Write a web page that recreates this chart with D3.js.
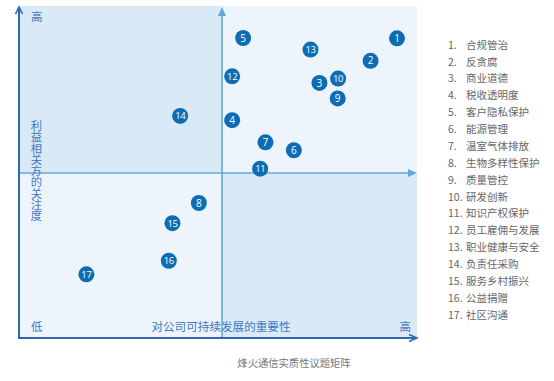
<!DOCTYPE html>
<html><head><meta charset="utf-8">
<script src="https://cdn.jsdelivr.net/npm/d3@7/dist/d3.min.js"></script>
<style>
html,body{margin:0;padding:0;background:#fff;}
svg{display:block;font-family:"Noto Sans CJK SC","Noto Sans",sans-serif;}
</style></head>
<body>
<svg id="chart" width="554" height="381"></svg>
<script>
const ids = [1,2,3,4,5,6,7,8,9,10,11,12,13,14,15,16,17];
const issues = ["合规管治","反贪腐","商业道德","税收透明度","客户隐私保护","能源管理","温室气体排放","生物多样性保护","质量管控","研发创新","知识产权保护","员工雇佣与发展","职业健康与安全","负责任采购","服务乡村振兴","公益捐赠","社区沟通"];
const importance = [9.31,8.66,7.40,5.25,5.52,6.77,6.07,4.43,7.85,7.86,5.94,5.25,7.18,3.97,3.78,3.69,1.66];
const concern    = [9.08,8.40,7.73,6.60,9.09,5.69,5.93,4.09,7.26,7.86,5.13,7.93,8.74,6.73,3.48,2.34,1.93];
const title = "烽火通信实质性议题矩阵";
const xLabel = "对公司可持续发展的重要性";
const yLabel = "利益相关方的关注度";

const svg = d3.select("#chart");
const x = d3.scaleLinear().domain([0,10]).range([19,425]);
const y = d3.scaleLinear().domain([0,10]).range([338,8]);
const L=19, R=417, T=6, B=338;
const mx = x(5), my = y(5);
const dark="#dae9f6", light="#edf4fb";

// quadrants
svg.append("rect").attr("x",L).attr("y",T).attr("width",mx-L).attr("height",my-T).attr("fill",dark);
svg.append("rect").attr("x",mx).attr("y",T).attr("width",R-mx).attr("height",my-T).attr("fill",light);
svg.append("rect").attr("x",L).attr("y",my).attr("width",mx-L).attr("height",B-my).attr("fill",light);
svg.append("rect").attr("x",mx).attr("y",my).attr("width",R-mx).attr("height",B-my).attr("fill",dark);

// divider lines with filled arrows
const dc="#62a8dd";
svg.append("line").attr("x1",L).attr("y1",my).attr("x2",R-6).attr("y2",my).attr("stroke",dc).attr("stroke-width",1.6);
svg.append("path").attr("d",`M${R},${my} L${R-9},${my-4} L${R-9},${my+4}Z`).attr("fill",dc);
svg.append("line").attr("x1",mx).attr("y1",B).attr("x2",mx).attr("y2",T+8).attr("stroke",dc).attr("stroke-width",1.6);
svg.append("path").attr("d",`M${mx},${T+1} L${mx-4},${T+10} L${mx+4},${T+10}Z`).attr("fill",dc);

// main axes
const ac="#2f68b0";
svg.append("line").attr("x1",L).attr("y1",B).attr("x2",L).attr("y2",T+2).attr("stroke",ac).attr("stroke-width",2);
svg.append("path").attr("d",`M${L-3.5},${T+8} L${L},${T+1} L${L+3.5},${T+8}`).attr("fill","none").attr("stroke",ac).attr("stroke-width",1.6);
svg.append("line").attr("x1",L-1).attr("y1",B).attr("x2",R).attr("y2",B).attr("stroke",ac).attr("stroke-width",2);
svg.append("path").attr("d",`M${R-8},${B-3.5} L${R},${B} L${R-8},${B+3.5}`).attr("fill","none").attr("stroke",ac).attr("stroke-width",1.6);

// axis texts
const tc="#3d78c0";
svg.append("text").attr("x",31).attr("y",21).attr("font-size",11.5).attr("fill",tc).text("高");
svg.append("text").attr("x",31).attr("y",331).attr("font-size",11.5).attr("fill",tc).text("低");
svg.append("text").attr("x",R-6).attr("y",331).attr("text-anchor","end").attr("font-size",11.5).attr("fill",tc).text("高");
svg.append("text").attr("x",221).attr("y",331).attr("text-anchor","middle").attr("font-size",11.6).attr("fill",tc).text(xLabel);
svg.append("text").attr("x",36.5).attr("y",120).attr("font-size",11.3).attr("fill",tc)
  .attr("writing-mode","vertical-rl").style("text-orientation","upright").attr("letter-spacing",0).text(yLabel);

// title
svg.append("text").attr("x",294).attr("y",367).attr("text-anchor","middle").attr("font-size",10.3).attr("fill","#777").text(title);

// points
const pts = ids.map((id,i)=>({id,x:importance[i],y:concern[i]}));
const g = svg.append("g").selectAll("g").data(pts).join("g")
  .attr("transform",d=>`translate(${x(d.x)},${y(d.y)})`);
g.append("circle").attr("r",8).attr("fill","#0c6db5");
g.append("text").attr("text-anchor","middle").attr("dy","0.36em")
  .attr("font-family","'Open Sans','Noto Sans',sans-serif")
  .attr("font-size",d=>d.id>=10?9.5:10).attr("fill","#fff").attr("letter-spacing",d=>d.id>=10?-0.4:0).text(d=>d.id);

// legend
const lg = svg.append("g").selectAll("g").data(issues).join("g")
  .attr("transform",(d,i)=>`translate(448,${45+i*16.88})`);
lg.append("text").attr("dy","0.35em").attr("font-size",10.5).attr("fill","#666").text((d,i)=>ids[i]+".");
lg.append("text").attr("x",18).attr("dy","0.35em").attr("font-size",10.5).attr("fill","#666").text(d=>d);
</script>
</body></html>
